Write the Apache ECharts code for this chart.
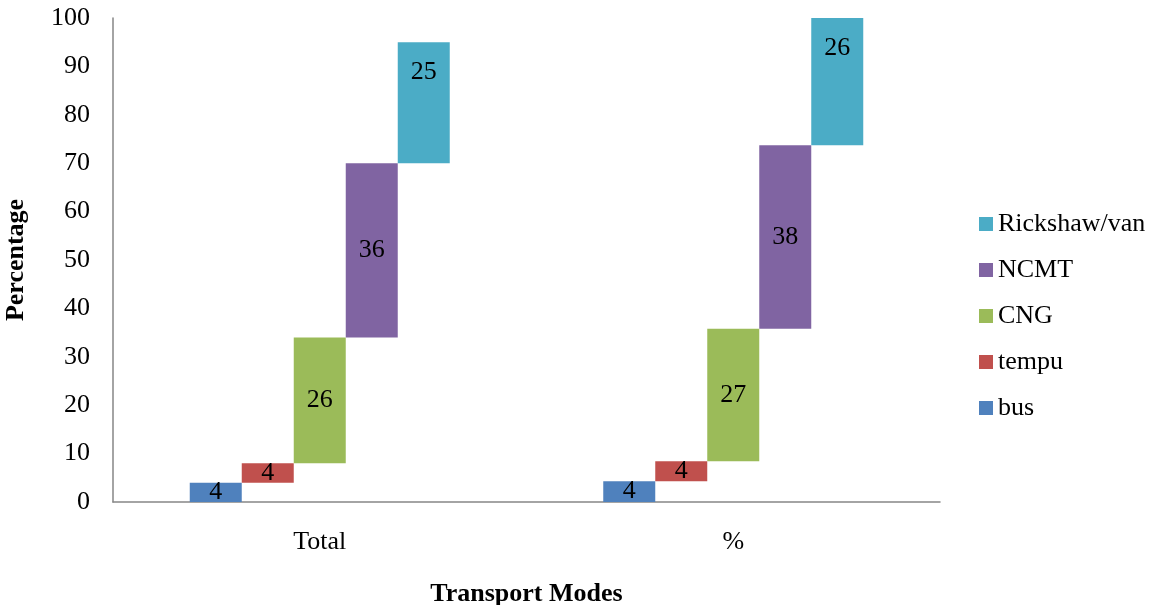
<!DOCTYPE html>
<html>
<head>
<meta charset="utf-8">
<script src="https://cdn.jsdelivr.net/npm/echarts@6/dist/echarts.min.js"></script>
<style>html,body{margin:0;padding:0;background:#fff;}#c{width:1149px;height:605px;}</style>
</head>
<body>
<div id="c"></div>
<script>
var categories = ['Total', '%'];
var seriesNames = ['bus', 'tempu', 'CNG', 'NCMT', 'Rickshaw/van'];
var bus = [4, 4.3];
var tempu = [4, 4.1];
var cng = [26, 27.4];
var ncmt = [36, 37.9];
var rickshaw = [25, 26.3];
var yTicks = [0, 10, 20, 30, 40, 50, 60, 70, 80, 90, 100];

var colors = ['#4F81BD', '#C0504D', '#9BBB59', '#8064A2', '#4BACC6'];
var values = [bus, tempu, cng, ncmt, rickshaw];
var font = 'Liberation Serif, Times New Roman, serif';
var fs = 26;

var series = [];
var cum = categories.map(function(){return 0;});
values.forEach(function(vals, i){
  var base = cum.slice();
  series.push({
    name: seriesNames[i] + '_base', type: 'bar', stack: 's' + i,
    data: base, itemStyle: {color: 'transparent'}, barWidth: 52, barGap: '0%',
    silent: true, label: {show: false}, emphasis: {disabled: true}
  });
  series.push({
    name: seriesNames[i], type: 'bar', stack: 's' + i,
    data: vals, itemStyle: {color: colors[i]}, barWidth: 52, barGap: '0%',
    label: {
      show: true,
      position: i === 4 ? 'insideTop' : 'inside',
      distance: 17,
      color: '#000', fontFamily: font, fontSize: fs,
      formatter: function(p){ return Math.round(p.value); }
    }
  });
  cum = cum.map(function(c, k){ return c + vals[k]; });
});

var chart = echarts.init(document.getElementById('c'), null, {renderer: 'canvas'});
chart.setOption({
  animation: false,
  color: colors,
  grid: {left: 113, right: 209, top: 18, bottom: 103, containLabel: false, outerBoundsMode: 'none'},
  legend: {
    data: seriesNames.slice().reverse(),
    orient: 'vertical', left: 974, top: 206,
    itemWidth: 14, itemHeight: 14, itemGap: 20,
    icon: 'rect',
    textStyle: {fontFamily: font, fontSize: fs, color: '#000'}
  },
  xAxis: {
    type: 'category', data: categories,
    name: 'Transport Modes', nameLocation: 'middle', nameGap: 79,
    nameTextStyle: {fontFamily: font, fontSize: fs, fontWeight: 'bold', color: '#000'},
    axisLine: {lineStyle: {color: '#868686', width: 1.5}},
    axisTick: {show: false},
    axisLabel: {margin: 27, fontFamily: font, fontSize: fs, color: '#000'}
  },
  yAxis: {
    type: 'value', min: 0, max: 100, interval: 10,
    name: 'Percentage', nameLocation: 'middle', nameGap: 84,
    nameTextStyle: {fontFamily: font, fontSize: fs, fontWeight: 'bold', color: '#000'},
    axisLine: {show: true, lineStyle: {color: '#868686', width: 1.5}},
    axisTick: {show: false},
    splitLine: {show: false},
    axisLabel: {margin: 23, fontFamily: font, fontSize: fs, color: '#000',
      formatter: function(v){ return yTicks.indexOf(v) >= 0 ? String(v) : ''; }}
  },
  series: series
});
</script>
</body>
</html>
